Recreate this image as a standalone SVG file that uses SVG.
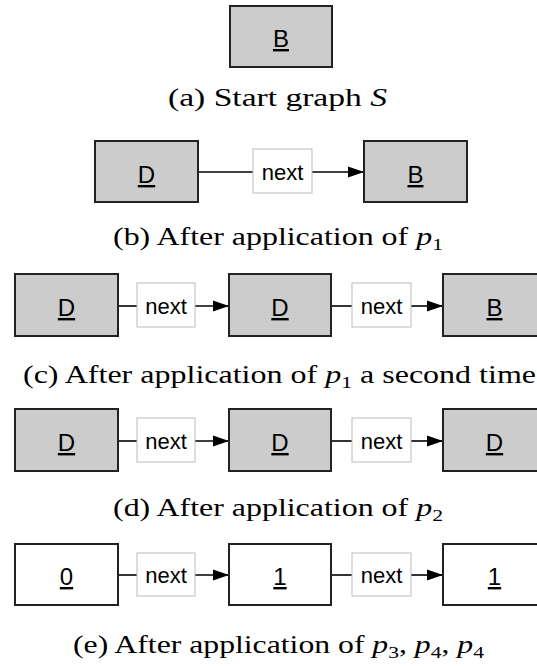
<svg xmlns="http://www.w3.org/2000/svg" width="537" height="666" viewBox="0 0 537 666">
<defs>
<style>
.node{fill:#cccccc;stroke:#222;stroke-width:2}
.wnode{fill:#ffffff;stroke:#222;stroke-width:2}
.lbl{fill:#ffffff;stroke:#bbbbbb;stroke-width:1}
.nt{font-family:"Liberation Sans",Arial,sans-serif;font-size:24px;fill:#000;text-anchor:middle;text-decoration:underline}
.et{font-family:"Liberation Sans",Arial,sans-serif;font-size:22px;fill:#000;text-anchor:middle}
.cap{font-family:"Liberation Serif","Times New Roman",serif;font-size:25px;fill:#000}
.m{font-style:italic}
.sub{font-size:17px}
.edge{stroke:#000;stroke-width:1.6;fill:none}
</style>
<marker id="arr" markerUnits="userSpaceOnUse" markerWidth="16" markerHeight="12" refX="16" refY="6" orient="auto">
<path d="M0,0.5 L16,6 L0,11.5 z" fill="#000"/>
</marker>
</defs>

<!-- (a) -->
<g id="a-B"><rect class="node" x="230" y="6" width="102" height="61"/><text class="nt" x="281" y="47">B</text></g>
<text class="cap" x="168" y="106" textLength="219" lengthAdjust="spacingAndGlyphs">(a) Start graph <tspan class="m">S</tspan></text>

<!-- (b) -->
<g id="connectors-b">
<line class="edge" x1="198" y1="172" x2="253" y2="172"/>
<line class="edge" x1="312" y1="172" x2="364" y2="172" marker-end="url(#arr)"/>
</g>
<g id="b-D"><rect class="node" x="95" y="141" width="103" height="61"/><text class="nt" x="146.5" y="183">D</text></g>
<g id="b-next"><rect class="lbl" x="253" y="149" width="59" height="44"/><text class="et" x="282.5" y="180">next</text></g>
<g id="b-B"><rect class="node" x="364" y="141" width="103" height="61"/><text class="nt" x="415.5" y="183">B</text></g>
<text class="cap" x="113" y="245" textLength="330" lengthAdjust="spacingAndGlyphs">(b) After application of <tspan class="m">p</tspan><tspan class="sub" dy="5">1</tspan></text>

<!-- (c) -->
<g id="connectors-c">
<line class="edge" x1="118" y1="306" x2="137" y2="306"/>
<line class="edge" x1="195" y1="306" x2="229" y2="306" marker-end="url(#arr)"/>
<line class="edge" x1="331" y1="306" x2="352" y2="306"/>
<line class="edge" x1="411" y1="306" x2="443" y2="306" marker-end="url(#arr)"/>
</g>
<g id="c-D1"><rect class="node" x="15" y="274" width="103" height="62"/><text class="nt" x="66.5" y="316">D</text></g>
<g id="c-next1"><rect class="lbl" x="137" y="283" width="58" height="44"/><text class="et" x="166" y="314">next</text></g>
<g id="c-D2"><rect class="node" x="229" y="274" width="102" height="62"/><text class="nt" x="280" y="316">D</text></g>
<g id="c-next2"><rect class="lbl" x="352" y="283" width="59" height="44"/><text class="et" x="381.5" y="314">next</text></g>
<g id="c-B"><rect class="node" x="443" y="274" width="103" height="62"/><text class="nt" x="494.5" y="316">B</text></g>
<text class="cap" x="23" y="383" textLength="513" lengthAdjust="spacingAndGlyphs">(c) After application of <tspan class="m">p</tspan><tspan class="sub" dy="5">1</tspan><tspan dy="-5"> a second time</tspan></text>

<!-- (d) -->
<g id="connectors-d">
<line class="edge" x1="118" y1="441" x2="137" y2="441"/>
<line class="edge" x1="195" y1="441" x2="229" y2="441" marker-end="url(#arr)"/>
<line class="edge" x1="331" y1="441" x2="352" y2="441"/>
<line class="edge" x1="411" y1="441" x2="443" y2="441" marker-end="url(#arr)"/>
</g>
<g id="d-D1"><rect class="node" x="15" y="409" width="103" height="62"/><text class="nt" x="66.5" y="451">D</text></g>
<g id="d-next1"><rect class="lbl" x="137" y="418" width="58" height="44"/><text class="et" x="166" y="449">next</text></g>
<g id="d-D2"><rect class="node" x="229" y="409" width="102" height="62"/><text class="nt" x="280" y="451">D</text></g>
<g id="d-next2"><rect class="lbl" x="352" y="418" width="59" height="44"/><text class="et" x="381.5" y="449">next</text></g>
<g id="d-D3"><rect class="node" x="443" y="409" width="103" height="62"/><text class="nt" x="494.5" y="451">D</text></g>
<text class="cap" x="113" y="516" textLength="330" lengthAdjust="spacingAndGlyphs">(d) After application of <tspan class="m">p</tspan><tspan class="sub" dy="5">2</tspan></text>

<!-- (e) -->
<g id="connectors-e">
<line class="edge" x1="118" y1="575" x2="137" y2="575"/>
<line class="edge" x1="195" y1="575" x2="229" y2="575" marker-end="url(#arr)"/>
<line class="edge" x1="331" y1="575" x2="352" y2="575"/>
<line class="edge" x1="411" y1="575" x2="443" y2="575" marker-end="url(#arr)"/>
</g>
<g id="e-0"><rect class="wnode" x="15" y="544" width="103" height="61"/><text class="nt" x="66.5" y="585">0</text></g>
<g id="e-next1"><rect class="lbl" x="137" y="553" width="58" height="43"/><text class="et" x="166" y="583">next</text></g>
<g id="e-1a"><rect class="wnode" x="229" y="544" width="102" height="61"/><text class="nt" x="280" y="585">1</text></g>
<g id="e-next2"><rect class="lbl" x="352" y="553" width="59" height="43"/><text class="et" x="381.5" y="583">next</text></g>
<g id="e-1b"><rect class="wnode" x="443" y="544" width="103" height="61"/><text class="nt" x="494.5" y="585">1</text></g>
<text class="cap" x="73" y="653" textLength="411" lengthAdjust="spacingAndGlyphs">(e) After application of <tspan class="m">p</tspan><tspan class="sub" dy="5">3</tspan><tspan dy="-5">, </tspan><tspan class="m">p</tspan><tspan class="sub" dy="5">4</tspan><tspan dy="-5">, </tspan><tspan class="m">p</tspan><tspan class="sub" dy="5">4</tspan></text>
</svg>
